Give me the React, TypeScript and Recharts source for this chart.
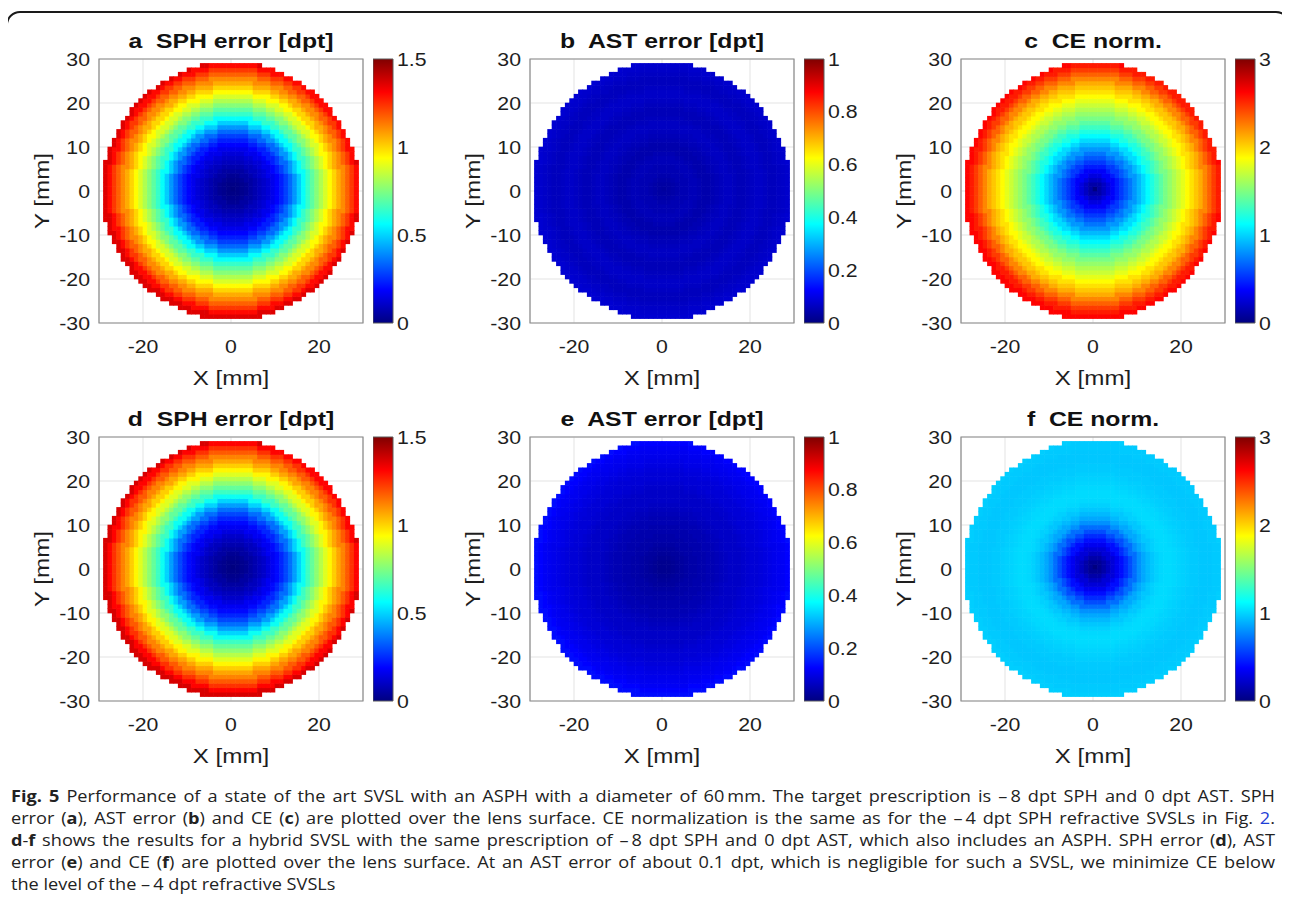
import React from 'react';
import { ScatterChart, Scatter, XAxis, YAxis, CartesianGrid, ReferenceArea } from 'recharts';

// Radial profiles: value at r = 0, 1, 2 ... 29 mm
const radiusMm = [0, 1, 2, 3, 4, 5, 6, 7, 8, 9, 10, 11, 12, 13, 14, 15, 16, 17, 18, 19, 20, 21, 22, 23, 24, 25, 26, 27, 28, 29];

const sphErrorA = [0.0, 0.01, 0.02, 0.03, 0.05, 0.07, 0.09, 0.11, 0.13, 0.16, 0.19, 0.23, 0.28, 0.34, 0.41, 0.49, 0.57, 0.64, 0.7, 0.76, 0.82, 0.88, 0.94, 1.0, 1.06, 1.11, 1.17, 1.23, 1.3, 1.36];
const astErrorB = [0.03, 0.035, 0.04, 0.045, 0.05, 0.05, 0.055, 0.055, 0.05, 0.045, 0.045, 0.05, 0.055, 0.06, 0.065, 0.065, 0.06, 0.055, 0.055, 0.06, 0.065, 0.07, 0.07, 0.065, 0.06, 0.06, 0.065, 0.07, 0.075, 0.08];
const ceNormC = [0.0, 0.12, 0.2, 0.28, 0.36, 0.45, 0.54, 0.63, 0.72, 0.82, 0.92, 1.02, 1.12, 1.21, 1.3, 1.39, 1.48, 1.56, 1.64, 1.72, 1.8, 1.88, 1.96, 2.04, 2.12, 2.23, 2.34, 2.45, 2.55, 2.62];
const sphErrorD = [0.0, 0.01, 0.02, 0.03, 0.05, 0.07, 0.09, 0.11, 0.14, 0.17, 0.2, 0.24, 0.29, 0.35, 0.42, 0.5, 0.58, 0.65, 0.71, 0.77, 0.83, 0.89, 0.95, 1.01, 1.07, 1.12, 1.18, 1.24, 1.31, 1.37];
const astErrorE = [0.015, 0.015, 0.02, 0.025, 0.03, 0.035, 0.04, 0.04, 0.045, 0.045, 0.05, 0.05, 0.055, 0.06, 0.065, 0.07, 0.07, 0.07, 0.075, 0.08, 0.085, 0.085, 0.09, 0.095, 0.1, 0.105, 0.11, 0.115, 0.125, 0.135];
const ceNormF = [0.0, 0.06, 0.12, 0.19, 0.26, 0.33, 0.41, 0.5, 0.6, 0.7, 0.8, 0.87, 0.92, 0.96, 0.99, 1.01, 1.02, 1.02, 1.01, 1.0, 0.99, 0.98, 0.97, 0.97, 0.96, 0.96, 0.96, 0.97, 0.97, 0.98];

const xTicks = [-20, 0, 20];
const yTicks = [-30, -20, -10, 0, 10, 20, 30];
const sphTicks = [0, 0.5, 1, 1.5];
const astTicks = [0, 0.2, 0.4, 0.6, 0.8, 1];
const ceTicks = [0, 1, 2, 3];

// lens sampling grid (1 mm cells) and aperture
const gridMm = Array.from({ length: 58 }, (_, i) => i - 28.5);
const LENS_RADIUS = 29.3;
const LENS_CENTER = 0.5;

const PLOT = 264;
const CELL = PLOT / 60;
const CB_W = 20;
const FONT = "'Liberation Sans', Arial, sans-serif";
const TEXT = '#1e1e1e';
const SX = 1.15; // the figure's text is a bit wider than Arial

function clamp(v: number) {
  return Math.max(0, Math.min(1, v));
}

// MATLAB jet colormap
function jet(t: number) {
  const u = clamp(t);
  const r = clamp(1.5 - Math.abs(4 * u - 3));
  const g = clamp(1.5 - Math.abs(4 * u - 2));
  const b = clamp(1.5 - Math.abs(4 * u - 1));
  return `rgb(${Math.round(r * 255)},${Math.round(g * 255)},${Math.round(b * 255)})`;
}

const jetStops = [0, 0.125, 0.375, 0.625, 0.875, 1];

function buildCells(profile: number[]) {
  const cells: { x: number; y: number; v: number }[] = [];
  for (const x of gridMm) {
    for (const y of gridMm) {
      if (Math.hypot(x, y) > LENS_RADIUS) continue;
      const r = Math.hypot(x - LENS_CENTER, y - LENS_CENTER);
      const idx = Math.min(radiusMm.length - 1, Math.round(r));
      cells.push({ x, y, v: profile[idx] });
    }
  }
  return cells;
}

const tickFont = { fontSize: 18.5, fill: TEXT, fontFamily: FONT };

function stretched(x: number) {
  return `translate(${x} 0) scale(${SX} 1) translate(${-x} 0)`;
}

const XTick = (p: any) => (
  <text x={p.x} y={p.y} dy="0.71em" textAnchor="middle" transform={stretched(p.x)} {...tickFont}>
    {p.payload.value}
  </text>
);

const YTick = (p: any) => (
  <text x={p.x} y={p.y} dy="0.355em" textAnchor="end" transform={stretched(p.x)} {...tickFont}>
    {p.payload.value}
  </text>
);

const CbTick = (p: any) => (
  <text x={p.x} y={p.y} dy="0.355em" textAnchor="start" transform={stretched(p.x)} {...tickFont}>
    {p.payload.value}
  </text>
);

const labelStyle: React.CSSProperties = {
  position: 'absolute',
  fontFamily: FONT,
  fontSize: 21,
  lineHeight: '24px',
  height: 24,
  textAlign: 'center',
  color: TEXT,
  whiteSpace: 'pre',
};

interface PanelProps {
  id: string;
  letter: string;
  title: string;
  profile: number[];
  max: number;
  ticks: number[];
  left: number;
  top: number;
}

function Panel({ id, letter, title, profile, max, ticks, left, top }: PanelProps) {
  const cells = React.useMemo(() => buildCells(profile), [profile]);

  return (
    <>
      <div
        style={{
          ...labelStyle,
          left: left - 40,
          top: top - 30,
          width: PLOT + 80,
          fontWeight: 'bold',
          color: '#111',
          transform: 'scaleX(1.18)',
        }}
      >
        {letter + '  ' + title}
      </div>
      <div style={{ ...labelStyle, left, top: top + 307, width: PLOT, transform: `scaleX(${SX})` }}>X [mm]</div>
      <div
        style={{
          ...labelStyle,
          left: left - 57 - PLOT / 2,
          top: top + PLOT / 2 - 12,
          width: PLOT,
          transform: `rotate(-90deg) scaleX(${SX})`,
        }}
      >
        Y [mm]
      </div>

      {/* map */}
      <div style={{ position: 'absolute', left: left - 90, top: top - 10 }}>
        <ScatterChart width={364} height={354} margin={{ top: 10, right: 10, bottom: 0, left: 30 }}>
          <CartesianGrid stroke="#e3e3e3" />
          <XAxis
            type="number"
            dataKey="x"
            domain={[-30, 30]}
            ticks={xTicks}
            interval={0}
            height={80}
            axisLine={false}
            tickLine={false}
            tickMargin={11}
            tick={XTick}
          />
          <YAxis
            type="number"
            dataKey="y"
            domain={[-30, 30]}
            ticks={yTicks}
            interval={0}
            width={60}
            axisLine={false}
            tickLine={false}
            tickMargin={3}
            tick={YTick}
          />
          <Scatter
            data={cells}
            isAnimationActive={false}
            shape={(p: any) => (
              <rect
                x={p.cx - CELL / 2 - 0.3}
                y={p.cy - CELL / 2 - 0.3}
                width={CELL + 0.6}
                height={CELL + 0.6}
                fill={jet(p.payload.v / max)}
              />
            )}
          />
          <ReferenceArea x1={-30} x2={30} y1={-30} y2={30} fill="none" stroke="#8c8c8c" strokeWidth={1.2} ifOverflow="visible" />
        </ScatterChart>
      </div>

      {/* colorbar */}
      <div style={{ position: 'absolute', left: left + PLOT + 10, top: top - 10 }}>
        <ScatterChart width={CB_W + 60} height={PLOT + 20} margin={{ top: 10, right: 0, bottom: 10, left: 0 }}>
          <defs>
            <linearGradient id={`jet-${id}`} x1="0" y1="1" x2="0" y2="0">
              {jetStops.map((s) => (
                <stop key={s} offset={s} stopColor={jet(s)} />
              ))}
            </linearGradient>
          </defs>
          <XAxis type="number" dataKey="x" domain={[0, 1]} hide />
          <YAxis
            type="number"
            dataKey="y"
            orientation="right"
            domain={[0, max]}
            ticks={ticks}
            interval={0}
            width={60}
            axisLine={false}
            tickLine={false}
            tickSize={2}
            tickMargin={2}
            tick={CbTick}
          />
          <Scatter
            data={ticks.map((t) => ({ x: 0.5, y: t }))}
            isAnimationActive={false}
            shape={() => <g />}
          />
          <ReferenceArea
            x1={0}
            x2={1}
            y1={0}
            y2={max}
            fill={`url(#jet-${id})`}
            fillOpacity={1}
            stroke="#5a5a5a"
            strokeWidth={1}
            ifOverflow="visible"
          />
        </ScatterChart>
      </div>
    </>
  );
}

const B = ({ children }: { children: React.ReactNode }) => <b>{children}</b>;

const lineStyle: React.CSSProperties = {
  textAlign: 'justify',
  textAlignLast: 'justify',
  height: 22,
  whiteSpace: 'nowrap',
};

const CAPTION_SX = 1.1;

export default function App() {
  const colX = [99, 530, 961];
  const rowY = [59, 437];

  return (
    <div
      style={{
        position: 'relative',
        width: 1290,
        height: 919,
        margin: -8,
        overflow: 'hidden',
        background: '#fff',
      }}
    >
      <div
        style={{
          position: 'absolute',
          left: 6,
          top: 11,
          width: 1280,
          height: 960,
          border: '2px solid #1a1a1a',
          borderRadius: 14,
        }}
      />

      <Panel id="a" letter="a" title="SPH error [dpt]" profile={sphErrorA} max={1.5} ticks={sphTicks} left={colX[0]} top={rowY[0]} />
      <Panel id="b" letter="b" title="AST error [dpt]" profile={astErrorB} max={1} ticks={astTicks} left={colX[1]} top={rowY[0]} />
      <Panel id="c" letter="c" title="CE norm." profile={ceNormC} max={3} ticks={ceTicks} left={colX[2]} top={rowY[0]} />
      <Panel id="d" letter="d" title="SPH error [dpt]" profile={sphErrorD} max={1.5} ticks={sphTicks} left={colX[0]} top={rowY[1]} />
      <Panel id="e" letter="e" title="AST error [dpt]" profile={astErrorE} max={1} ticks={astTicks} left={colX[1]} top={rowY[1]} />
      <Panel id="f" letter="f" title="CE norm." profile={ceNormF} max={3} ticks={ceTicks} left={colX[2]} top={rowY[1]} />

      <div
        style={{
          position: 'absolute',
          left: 11,
          top: 785,
          width: 1264 / CAPTION_SX,
          transform: `scaleX(${CAPTION_SX})`,
          transformOrigin: '0 0',
          fontFamily: "'Open Sans', sans-serif",
          fontSize: 16.5,
          lineHeight: '22px',
          color: '#222',
        }}
      >
        <div style={lineStyle}>
          <B>Fig. 5</B> Performance of a state of the art SVSL with an ASPH with a diameter of 60{'\u2009'}mm. The target prescription is {'\u2013\u2009'}8 dpt SPH and 0 dpt AST. SPH
        </div>
        <div style={lineStyle}>
          error (<B>a</B>), AST error (<B>b</B>) and CE (<B>c</B>) are plotted over the lens surface. CE normalization is the same as for the {'\u2013\u2009'}4 dpt SPH refractive SVSLs in Fig. <span style={{ color: '#1f3fd6' }}>2</span>.
        </div>
        <div style={lineStyle}>
          <B>d</B>-<B>f</B> shows the results for a hybrid SVSL with the same prescription of {'\u2013\u2009'}8 dpt SPH and 0 dpt AST, which also includes an ASPH. SPH error (<B>d</B>), AST
        </div>
        <div style={lineStyle}>
          error (<B>e</B>) and CE (<B>f</B>) are plotted over the lens surface. At an AST error of about 0.1 dpt, which is negligible for such a SVSL, we minimize CE below
        </div>
        <div style={{ height: 22, whiteSpace: 'nowrap' }}>
          the level of the {'\u2013\u2009'}4 dpt refractive SVSLs
        </div>
      </div>
    </div>
  );
}
